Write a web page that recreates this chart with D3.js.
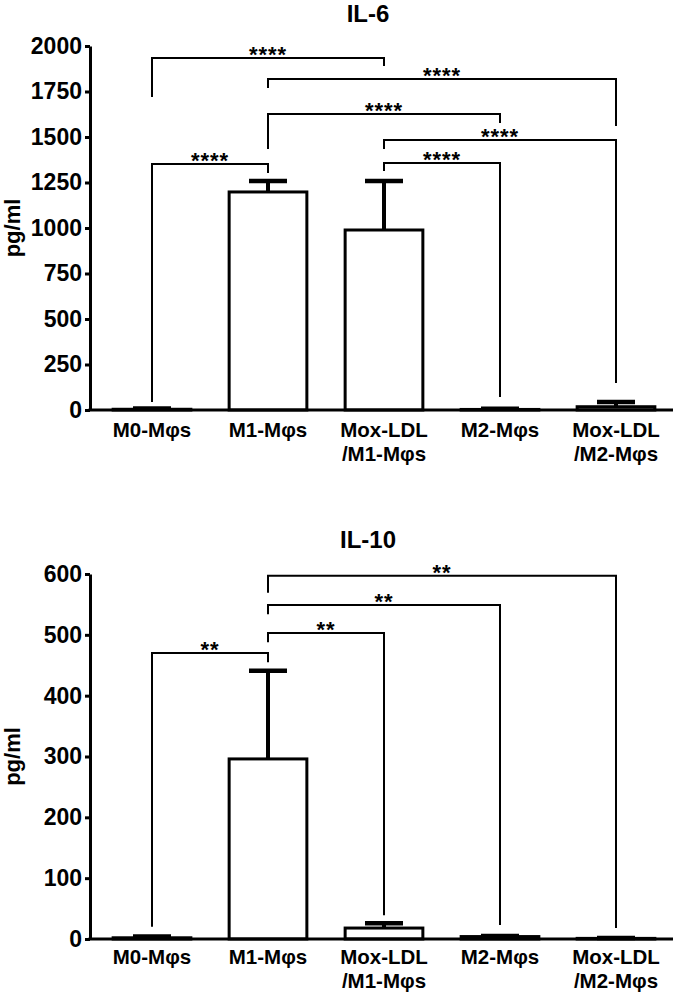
<!DOCTYPE html>
<html>
<head>
<meta charset="utf-8">
<script src="https://cdn.jsdelivr.net/npm/d3@7"></script>
<style>
  html, body { margin: 0; padding: 0; background: #fff; }
  svg { display: block; }
  text { font-family: "Liberation Sans", Arial, sans-serif; fill: #000; }
</style>
</head>
<body>
<svg id="chart" width="680" height="995"></svg>
<script>
// ---------- data ----------
const categories = ["M0-Mφs", "M1-Mφs", "Mox-LDL/M1-Mφs", "M2-Mφs", "Mox-LDL/M2-Mφs"];
const categoryLines = [["M0-Mφs"], ["M1-Mφs"], ["Mox-LDL", "/M1-Mφs"], ["M2-Mφs"], ["Mox-LDL", "/M2-Mφs"]];

const il6Title = "IL-6";
const il6Values = [4, 1198, 989, 3, 18];
const il6Errors = [4, 60, 269, 4, 26];
const il6Ticks = [0, 250, 500, 750, 1000, 1250, 1500, 1750, 2000];
// [fromIndex, toIndex, barValue, leftLegEnd, rightLegEnd, label]
const il6Brackets = [
  [0, 2, 1934, 1720, 1890, "****"],
  [1, 4, 1819, 1769, 1560, "****"],
  [1, 3, 1626, 1434, 1577, "****"],
  [2, 4, 1484, 1434, 148, "****"],
  [2, 3, 1357, 1313, 71, "****"],
  [0, 1, 1352, 44, 1302, "****"]
];

const il10Title = "IL-10";
const il10Values = [2, 296, 18, 4, 1];
const il10Errors = [2, 145, 8, 1, 0.5];
const il10Ticks = [0, 100, 200, 300, 400, 500, 600];
const il10Brackets = [
  [0, 1, 470, 20, 455, "**"],
  [1, 2, 503, 488, 39, "**"],
  [1, 3, 549, 534, 23, "**"],
  [1, 4, 597, 569, 18, "**"]
];

const yLabel = "pg/ml";

// ---------- drawing ----------
const svg = d3.select("#chart");

function drawPanel(opts) {
  const g = svg.append("g");
  const x = d3.scaleBand()
    .domain(categories)
    .range([94, 674])
    .paddingInner(0.33)
    .paddingOuter(0.165);
  const y = d3.scaleLinear()
    .domain([0, d3.max(opts.ticks)])
    .range([opts.y0, opts.y1]);

  // title
  g.append("text")
    .attr("x", 368)
    .attr("y", opts.titleY)
    .attr("text-anchor", "middle")
    .attr("font-size", 24)
    .attr("font-weight", "bold")
    .text(opts.title);

  // y label
  g.append("text")
    .attr("transform", `translate(20,${(opts.y0 + opts.y1) / 2}) rotate(-90)`)
    .attr("text-anchor", "middle")
    .attr("font-size", 22)
    .attr("font-weight", "bold")
    .text(yLabel);

  // bars
  g.selectAll("rect.bar")
    .data(opts.values)
    .join("rect")
    .attr("class", "bar")
    .attr("x", (d, i) => x(categories[i]))
    .attr("width", x.bandwidth())
    .attr("y", d => y(d))
    .attr("height", d => y(0) - y(d))
    .attr("fill", "#fff")
    .attr("stroke", "#000")
    .attr("stroke-width", 3);

  // error bars
  const capW = 38;
  opts.values.forEach((v, i) => {
    const cx = x(categories[i]) + x.bandwidth() / 2;
    const top = y(v + opts.errors[i]);
    g.append("line")
      .attr("x1", cx).attr("x2", cx)
      .attr("y1", y(v)).attr("y2", top)
      .attr("stroke", "#000").attr("stroke-width", 4);
    g.append("line")
      .attr("x1", cx - capW / 2).attr("x2", cx + capW / 2)
      .attr("y1", top).attr("y2", top)
      .attr("stroke", "#000").attr("stroke-width", 4.5);
  });

  // y axis
  const yAxis = d3.axisLeft(y)
    .tickValues(opts.ticks)
    .tickSize(5)
    .tickSizeOuter(0)
    .tickPadding(3)
    .tickFormat(d3.format("d"));
  const ya = g.append("g")
    .attr("transform", "translate(90,0)")
    .call(yAxis);
  ya.select(".domain").attr("stroke", "#000").attr("stroke-width", 3);
  ya.selectAll(".tick line").attr("stroke", "#000").attr("stroke-width", 3);
  ya.selectAll(".tick text")
    .attr("font-size", 23)
    .attr("font-weight", "bold")
    .attr("font-family", "'Liberation Sans', Arial, sans-serif")
    .attr("fill", "#000");

  // x axis baseline
  g.append("line")
    .attr("x1", 88.5).attr("x2", 673)
    .attr("y1", y(0)).attr("y2", y(0))
    .attr("stroke", "#000").attr("stroke-width", 3);

  // category labels
  categoryLines.forEach((lines, i) => {
    const cx = x(categories[i]) + x.bandwidth() / 2;
    const t = g.append("text")
      .attr("x", cx)
      .attr("y", y(0) + opts.labelOffset)
      .attr("text-anchor", "middle")
      .attr("font-size", 20.5)
      .attr("font-weight", "bold");
    lines.forEach((ln, j) => {
      t.append("tspan")
        .attr("x", cx)
        .attr("dy", j === 0 ? 0 : 24)
        .text(ln);
    });
  });

  // significance brackets
  const line = d3.line();
  opts.brackets.forEach(b => {
    const [a, c, top, lEnd, rEnd, label] = b;
    const xa = x(categories[a]) + x.bandwidth() / 2;
    const xc = x(categories[c]) + x.bandwidth() / 2;
    g.append("path")
      .attr("d", line([[xa, y(lEnd)], [xa, y(top)], [xc, y(top)], [xc, y(rEnd)]]))
      .attr("fill", "none")
      .attr("stroke", "#000")
      .attr("stroke-width", 2);
    g.append("text")
      .attr("x", (xa + xc) / 2)
      .attr("y", y(top) + 4)
      .attr("text-anchor", "middle")
      .attr("font-size", 22)
      .attr("font-weight", "bold")
      .attr("letter-spacing", 1)
      .text(label);
  });
}

drawPanel({
  title: il6Title, titleY: 22, values: il6Values, errors: il6Errors,
  ticks: il6Ticks, brackets: il6Brackets, y0: 410, y1: 46, labelOffset: 27
});
drawPanel({
  title: il10Title, titleY: 548, values: il10Values, errors: il10Errors,
  ticks: il10Ticks, brackets: il10Brackets, y0: 939, y1: 574, labelOffset: 25
});
</script>
</body>
</html>
